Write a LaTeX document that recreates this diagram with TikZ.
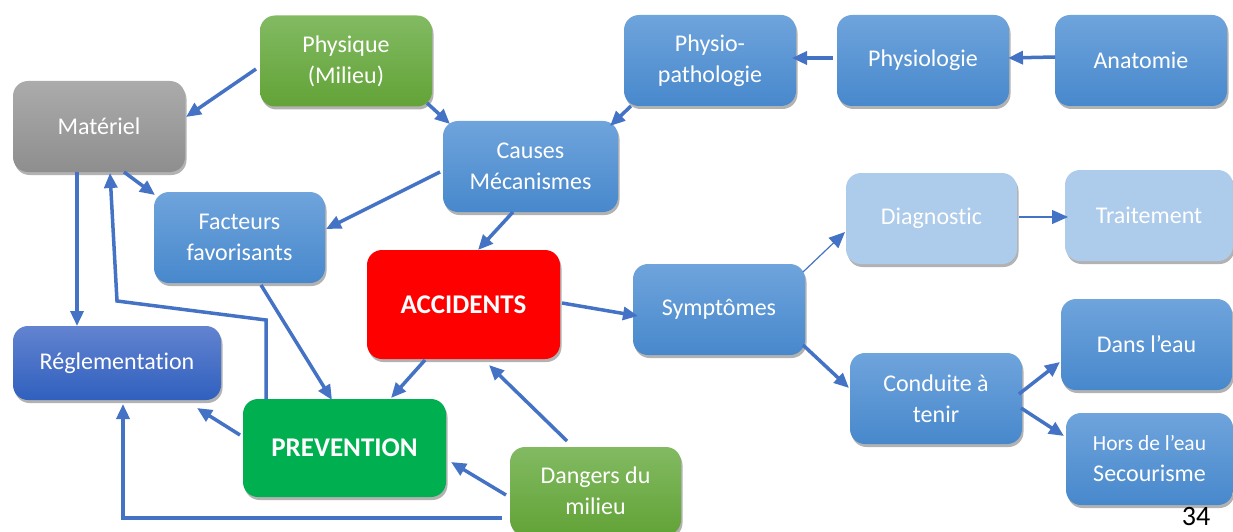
\documentclass[tikz,border=0pt]{standalone}
\usepackage{fontspec}
\setmainfont{Carlito}[Ligatures=NoCommon]
\usetikzlibrary{arrows.meta,shadows,calc}
\definecolor{bTop}{RGB}{111,164,220}
\definecolor{bBot}{RGB}{71,136,204}
\definecolor{lineC}{RGB}{68,114,196}
\definecolor{rTop}{RGB}{98,131,208}
\definecolor{rBot}{RGB}{48,96,190}
\definecolor{gTop}{RGB}{171,171,171}
\definecolor{gBot}{RGB}{142,142,142}
\definecolor{grTop}{RGB}{130,186,98}
\definecolor{grBot}{RGB}{98,163,55}
\definecolor{prevC}{RGB}{0,176,80}
\definecolor{lightC}{RGB}{173,203,234}
\tikzset{
  box/.style={rounded corners=15pt, minimum width=172pt, minimum height=91pt,
    align=center, text=white, inner sep=0pt,
    font=\fontsize{24}{31}\selectfont,
    drop shadow={shadow xshift=1.5pt, shadow yshift=-3pt, opacity=0.3, fill=black}},
  bluebox/.style={box, top color=bTop, bottom color=bBot},
  greybox/.style={box, top color=gTop, bottom color=gBot},
  greenbox/.style={box, top color=grTop, bottom color=grBot},
  reglbox/.style={box, top color=rTop, bottom color=rBot},
  lightbox/.style={box, fill=lightC, drop shadow={opacity=0}},
  redbox/.style={box, fill=red, font=\fontsize{27}{31}\selectfont\bfseries},
  prevbox/.style={box, fill=prevC, font=\fontsize{27}{31}\selectfont\bfseries},
  arr/.style={draw=lineC, line width=3.5pt, -{Triangle[length=15pt,width=13pt]}},
  thinarr/.style={draw=lineC, line width=1.2pt, -{Triangle[length=16pt,width=14pt]}},
}
\begin{document}
\begin{tikzpicture}[x=1pt,y=-1pt]
\useasboundingbox (0,0) rectangle (1233,532);
\node[greenbox] (phys) at (346,61) {Physique\\(Milieu)};
\node[greybox] (mat) at (99,126.5) {Matériel};
\node[bluebox, minimum width=171pt] (fact) at (239.5,237.5) {Facteurs\\favorisants};
\node[bluebox, minimum width=175pt] (cause) at (530.5,166.5) {Causes\\Mécanismes};
\node[bluebox] (ppath) at (710,60.5) {Physio-\\pathologie};
\node[bluebox] (physio) at (923,60.5) {Physiologie};
\node[bluebox] (anat) at (1141,60.5) {Anatomie};
\node[lightbox, minimum width=171pt] (diag) at (931.5,218.5) {Diagnostic};
\node[lightbox, minimum width=168pt] (trait) at (1149,215.5) {Traitement};
\node[bluebox] (sympt) at (719,309.5) {Symptômes};
\node[redbox, minimum width=193pt, minimum height=109pt] (acc) at (463.5,304.5) {ACCIDENTS};
\node[reglbox, minimum width=208pt, minimum height=74pt] (regl) at (117,363) {Réglementation};
\node[prevbox, minimum width=203pt, minimum height=98pt] (prev) at (344.5,448) {PREVENTION};
\node[greenbox, minimum width=171pt, minimum height=88pt] (dang) at (595.5,491) {Dangers du\\milieu};
\node[bluebox] (cond) at (936,398.5) {Conduite à\\tenir};
\node[bluebox, minimum width=171pt] (dans) at (1146.5,344.5) {Dans l’eau};
\node[bluebox, minimum width=167pt, minimum height=92pt] (hors) at (1149.5,459) {{\fontsize{21.5}{31}\selectfont Hors de l’eau}\\Secourisme};
\node[font=\fontsize{28}{28}\selectfont, text=black, inner sep=0pt] (num) at (1196,516.5) {34};

\draw[arr] ($(phys.center)+(-90,8)$) -- ($(mat.center)+(87,-9.5)$);
\draw[arr] ($(phys.center)+(81,42)$) -- ($(cause.center)+(-80.5,-42.5)$);
\draw[arr] ($(ppath.center)+(-79,45.5)$) -- ($(cause.center)+(79.5,-40.5)$);
\draw[arr] ($(physio.center)+(-90,-2.5)$) -- ($(ppath.center)+(82,-2.5)$);
\draw[arr] ($(anat.center)+(-86,-3.5)$) -- ($(physio.center)+(85,-2.5)$);
\draw[arr] ($(cause.center)+(-90.5,5.5)$) -- ($(fact.center)+(86.5,-8.5)$);
\draw[arr] ($(cause.center)+(-17.5,45.5)$) -- ($(acc.center)+(14.5,-54.5)$);
\draw[arr] ($(mat.center)+(25,45.5)$) -- ($(fact.center)+(-84.5,-42.5)$);
\draw[arr] ($(mat.center)+(-22,45.5)$) -- ($(regl.center)+(-40,-37)$);
\draw[arr] ($(prev.center)+(-78.5,-49)$) -- ++(0,-79) -- ++(-149,-19) -- ($(mat.center)+(11,46.5)$);
\draw[arr] ($(fact.center)+(21.5,47.5)$) -- ($(prev.center)+(-12.5,-48)$);
\draw[arr] ($(acc.center)+(-38.5,55.5)$) -- ($(prev.center)+(46.5,-50)$);
\draw[arr] ($(prev.center)+(-104.5,-13)$) -- ($(regl.center)+(80,45)$);
\draw[arr] ($(dang.center)+(-93.5,27)$) -- ++(-379,0) -- ($(regl.center)+(6,41)$);
\draw[arr] ($(dang.center)+(-89.5,4)$) -- ($(prev.center)+(106.5,14)$);
\draw[arr] ($(dang.center)+(-28.5,-50)$) -- ($(acc.center)+(25.5,60.5)$);
\draw[arr] ($(acc.center)+(98.5,-1.5)$) -- ($(sympt.center)+(-81,6.5)$);
\draw[thinarr] ($(sympt.center)+(84,-37.5)$) -- ($(diag.center)+(-86.5,13.5)$);
\draw[thinarr] ($(diag.center)+(87.5,-1.5)$) -- ($(trait.center)+(-81,1.5)$);
\draw[arr] ($(sympt.center)+(84,35.5)$) -- ($(cond.center)+(-87,-10.5)$);
\draw[arr] ($(cond.center)+(83,-4.5)$) -- ($(dans.center)+(-86.5,17.5)$);
\draw[arr] ($(cond.center)+(85,9.5)$) -- ($(hors.center)+(-85.5,-23)$);
\end{tikzpicture}
\end{document}
